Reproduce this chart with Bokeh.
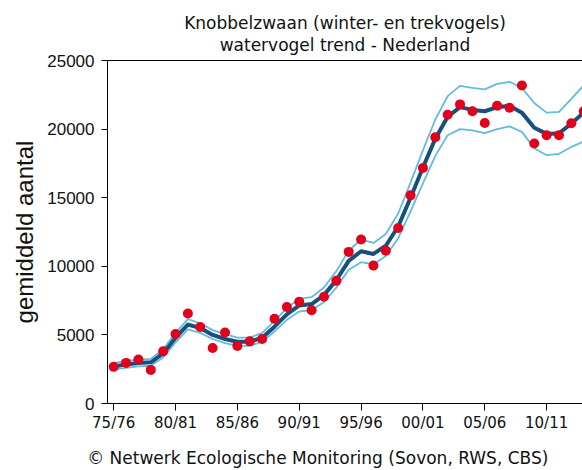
from bokeh.plotting import figure
from bokeh.models import Range1d, FixedTicker, LinearAxis, Title, NumeralTickFormatter
from bokeh.embed import file_html
from bokeh.resources import INLINE

# season start years (75/76 -> 1975)
years = list(range(1975, 2014))
season_labels = {1975: "75/76", 1980: "80/81", 1985: "85/86", 1990: "90/91",
                 1995: "95/96", 2000: "00/01", 2005: "05/06", 2010: "10/11"}

# observed (index) counts per season
counts = [2670, 2960, 3200, 2450, 3800, 5070, 6560, 5570, 4050, 5180,
          4200, 4530, 4700, 6180, 7030, 7410, 6800, 7780, 8940, 11050,
          11950, 10050, 11140, 12790, 15170, 17170, 19400, 21050, 21800, 21300,
          20440, 21700, 21560, 23180, 18950, 19550, 19550, 20420, 21300]

# modelled trend and confidence limits
trend = [2700, 2850, 2950, 3000, 3650, 4800, 5750, 5500, 5000, 4700,
         4500, 4500, 4800, 5600, 6500, 7150, 7250, 7900, 9000, 10400,
         11100, 10900, 11500, 12900, 15000, 17200, 19300, 20900, 21600, 21400,
         21300, 21600, 21700, 21200, 20100, 19650, 19700, 20400, 21200]
upper = [2950, 3100, 3200, 3250, 3950, 5150, 6150, 5850, 5350, 5050,
         4800, 4800, 5150, 6000, 6950, 7650, 7750, 8450, 9650, 11150,
         11950, 11700, 12350, 13850, 16100, 18450, 20700, 22400, 23150, 23000,
         22900, 23300, 23450, 23000, 21900, 21200, 21250, 22200, 23200]
lower = [2480, 2600, 2700, 2750, 3350, 4450, 5400, 5150, 4700, 4400,
         4200, 4200, 4500, 5250, 6100, 6700, 6800, 7400, 8450, 9750,
         10300, 10150, 10750, 12050, 14000, 16050, 18050, 19550, 20000, 19900,
         19700, 20000, 20200, 19800, 18600, 18100, 18200, 18700, 19100]

title1 = "Knobbelzwaan (winter- en trekvogels)"
title2 = "watervogel trend - Nederland"
footer = "\u00a9 Netwerk Ecologische Monitoring (Sovon, RWS, CBS)"
ylabel = "gemiddeld aantal"

X0, X1 = 1974.5, 2012.9
p = figure(width=582, height=470, output_backend="svg", toolbar_location=None,
           x_range=Range1d(X0, X1), y_range=Range1d(0, 25000),
           min_border_left=107, min_border_right=0, min_border_top=60,
           min_border_bottom=66)
p.outline_line_color = None
p.grid.visible = False
p.background_fill_color = "white"
p.border_fill_color = "white"

# confidence limits
p.line(years, upper, line_color="#62bcdb", line_width=1.8)
p.line(years, lower, line_color="#62bcdb", line_width=1.8)
# trend
p.line(years, trend, line_color="#16507f", line_width=4, line_join="round")
# counts
p.scatter(years, counts, size=10, fill_color="#e2001a", line_color=None)

# axes
xa = p.xaxis[0]
xa.ticker = FixedTicker(ticks=list(season_labels.keys()))
xa.major_label_overrides = season_labels
xa.minor_tick_line_color = None
xa.major_tick_out = 7
xa.major_tick_in = 0
xa.axis_line_color = "black"
xa.major_label_text_font = "DejaVu Sans"
xa.major_label_text_font_size = "15px"
xa.major_label_text_color = "#111111"
xa.major_label_standoff = 3

ya = p.yaxis[0]
ya.ticker = FixedTicker(ticks=[0, 5000, 10000, 15000, 20000, 25000])
ya.formatter = NumeralTickFormatter(format="0")
ya.minor_tick_line_color = None
ya.major_tick_out = 6
ya.major_tick_in = 0
ya.major_label_text_font = "Liberation Sans"
ya.major_label_text_font_size = "17px"
ya.major_label_text_color = "#111111"
ya.major_label_standoff = 7
ya.axis_label = ylabel
ya.axis_label_text_font = "Liberation Sans"
ya.axis_label_text_font_style = "normal"
ya.axis_label_text_font_size = "24px"
ya.axis_label_text_color = "#111111"
ya.axis_label_standoff = 6

# top border line
top = LinearAxis(ticker=FixedTicker(ticks=[]), major_tick_line_color=None,
                 minor_tick_line_color=None, major_label_text_font_size="0px",
                 axis_line_color="black")
p.add_layout(top, "above")

# two centred title lines
tstyle = dict(align="center", text_font="DejaVu Sans", text_font_size="17px",
              text_font_style="normal", text_color="#111111")
p.add_layout(Title(text=title2, standoff=12, **tstyle), "above")
try:
    t1 = Title(text=title1, standoff=-12, **tstyle)
except Exception:
    t1 = Title(text=title1, standoff=0, **tstyle)
p.add_layout(t1, "above")

# footer line, placed under the season labels (centre at 210 px right of the frame's left edge)
fx = round(X0 + 210.0 / 475.0 * (X1 - X0), 1)
foot = LinearAxis(ticker=FixedTicker(ticks=[fx]), major_label_overrides={fx: footer},
                  major_tick_line_color=None, minor_tick_line_color=None,
                  major_tick_out=0, major_tick_in=0, axis_line_color=None,
                  major_label_standoff=13, major_label_text_font="DejaVu Sans",
                  major_label_text_font_size="17px", major_label_text_color="#111111")
p.add_layout(foot, "below")

open("out.html", "w").write(file_html(p, INLINE))
